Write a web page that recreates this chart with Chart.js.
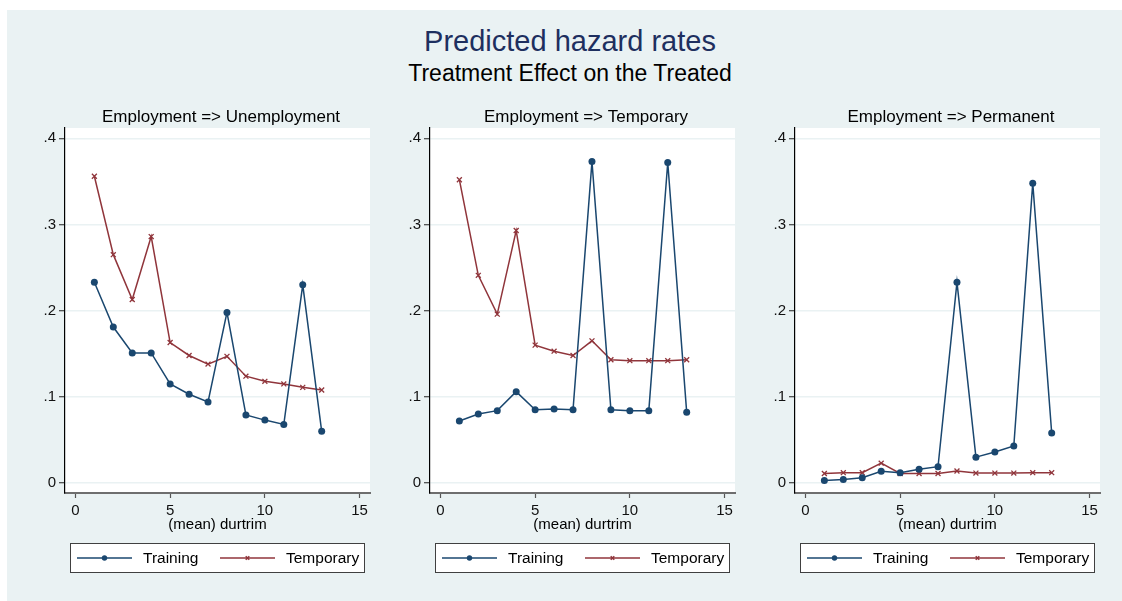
<!DOCTYPE html>
<html>
<head>
<meta charset="utf-8">
<script src="https://cdn.jsdelivr.net/npm/chart.js@4.4.1/dist/chart.umd.min.js"></script>
<style>
  html, body { margin: 0; padding: 0; background: #ffffff; }
  body { width: 1122px; height: 601px; position: relative; overflow: hidden;
         font-family: "Liberation Sans", Arial, sans-serif; }
  #frame { position: absolute; left: 7px; top: 10px; width: 1115px; height: 591px; background: #eaf2f3; }
  .head { position: absolute; left: 0; width: 1140px; text-align: center; white-space: nowrap; }
  #title { top: 25px; font-size: 29px; color: #1e2f5f; }
  #subtitle { top: 60px; font-size: 23px; color: #000; }
  canvas { position: absolute; top: 100px; }
</style>
</head>
<body>
<div id="frame"></div>
<div class="head" id="title">Predicted hazard rates</div>
<div class="head" id="subtitle">Treatment Effect on the Treated</div>
<canvas id="c0" width="365" height="490" style="left:25px"></canvas>
<canvas id="c1" width="365" height="490" style="left:390px"></canvas>
<canvas id="c2" width="365" height="490" style="left:755px"></canvas>
<script>
// duration periods on the x axis
const durtrim = [1, 2, 3, 4, 5, 6, 7, 8, 9, 10, 11, 12, 13];

// Employment => Unemployment
const unempTraining  = [0.233, 0.181, 0.151, 0.151, 0.115, 0.103, 0.094, 0.198, 0.079, 0.073, 0.068, 0.230, 0.060];
const unempTemporary = [0.356, 0.265, 0.213, 0.286, 0.163, 0.148, 0.138, 0.147, 0.124, 0.118, 0.115, 0.111, 0.108];

// Employment => Temporary
const tempTraining  = [0.072, 0.080, 0.084, 0.106, 0.085, 0.086, 0.085, 0.373, 0.085, 0.084, 0.084, 0.372, 0.082];
const tempTemporary = [0.352, 0.241, 0.196, 0.293, 0.160, 0.153, 0.148, 0.165, 0.143, 0.142, 0.142, 0.142, 0.143];

// Employment => Permanent
const permTraining  = [0.003, 0.004, 0.006, 0.0135, 0.012, 0.016, 0.019, 0.233, 0.030, 0.036, 0.043, 0.348, 0.058];
const permTemporary = [0.011, 0.012, 0.012, 0.023, 0.011, 0.011, 0.011, 0.014, 0.0115, 0.0115, 0.0115, 0.012, 0.012];

const panelTitles = ['Employment => Unemployment', 'Employment => Temporary', 'Employment => Permanent'];
const seriesNames = ['Training', 'Temporary'];
const yTicks = [0, 0.1, 0.2, 0.3, 0.4];
const yTickLabels = ['0', '.1', '.2', '.3', '.4'];
const xTicks = [0, 5, 10, 15];
const xTitle = '(mean) durtrim';

const NAVY = '#1a476f';
const MAROON = '#90353b';
const FONT = '"Liberation Sans", Arial, sans-serif';

const panels = [
  [unempTraining, unempTemporary],
  [tempTraining, tempTemporary],
  [permTraining, permTemporary]
];

// white plot region, panel title, x-axis title and boxed legend
const panelDecor = {
  id: 'panelDecor',
  beforeDraw(chart) {
    const a = chart.chartArea, ctx = chart.ctx;
    ctx.save();
    ctx.fillStyle = '#ffffff';
    ctx.fillRect(a.left, a.top, a.right - a.left, a.bottom - a.top);
    ctx.restore();
  },
  afterDraw(chart, args, opts) {
    const a = chart.chartArea, ctx = chart.ctx;
    const cx = (a.left + a.right) / 2;
    ctx.save();
    ctx.fillStyle = '#000';
    ctx.textAlign = 'center';
    ctx.textBaseline = 'middle';
    ctx.font = '17px ' + FONT;
    ctx.fillText(opts.title, cx + 3.5, a.top - 11);
    ctx.font = '15px ' + FONT;
    ctx.fillText(opts.xTitle, cx, a.bottom + 32);

    // legend box
    const bx = a.left + 5, by = a.bottom + 50, bw = a.right - a.left - 11, bh = 29;
    ctx.fillStyle = '#ffffff';
    ctx.fillRect(bx, by, bw, bh);
    ctx.strokeStyle = '#404040';
    ctx.lineWidth = 1;
    ctx.strokeRect(bx + 0.5, by + 0.5, bw, bh);
    const my = by + bh / 2 + 0.5;
    const items = [
      { x: bx + 7, color: NAVY, style: 'circle', label: opts.names[0] },
      { x: bx + 150, color: MAROON, style: 'crossRot', label: opts.names[1] }
    ];
    items.forEach(it => {
      ctx.strokeStyle = it.color;
      ctx.fillStyle = it.color;
      ctx.lineWidth = 1.5;
      ctx.beginPath();
      ctx.moveTo(it.x, my);
      ctx.lineTo(it.x + 55, my);
      ctx.stroke();
      if (it.style === 'circle') {
        ctx.beginPath(); ctx.arc(it.x + 27.5, my, 2.7, 0, Math.PI * 2); ctx.fill();
      } else {
        Chart.helpers.drawPoint(ctx, { pointStyle: 'crossRot', radius: 2.5, borderWidth: 1.3 }, it.x + 27.5, my);
      }
      ctx.fillStyle = '#000';
      ctx.textAlign = 'left';
      ctx.font = '15.5px ' + FONT;
      ctx.fillText(it.label, it.x + 66, my + 1);
    });
    ctx.restore();
  }
};

function makeChart(id, idx) {
  const [train, temp] = panels[idx];
  return new Chart(document.getElementById(id), {
    type: 'line',
    data: {
      datasets: [
        {
          label: seriesNames[0],
          data: durtrim.map((d, i) => ({ x: d, y: train[i] })),
          borderColor: NAVY, backgroundColor: NAVY,
          borderWidth: 1.5, pointStyle: 'circle', pointRadius: 3.5,
          pointBorderWidth: 0, tension: 0
        },
        {
          label: seriesNames[1],
          data: durtrim.map((d, i) => ({ x: d, y: temp[i] })),
          borderColor: MAROON, backgroundColor: MAROON,
          borderWidth: 1.5, pointStyle: 'crossRot', pointRadius: 3.5,
          pointBorderWidth: 1.3, tension: 0
        }
      ]
    },
    options: {
      responsive: false,
      animation: false,
      devicePixelRatio: 1,
      layout: { padding: { left: 0, top: 28, right: 20, bottom: 67 } },
      plugins: {
        legend: { display: false },
        title: { display: false },
        tooltip: { enabled: false },
        panelDecor: { title: panelTitles[idx], xTitle: xTitle, names: seriesNames }
      },
      scales: {
        x: {
          type: 'linear', min: -0.55, max: 15.55,
          afterFit(s) { s.height = 30; },
          afterBuildTicks(s) { s.ticks = xTicks.map(v => ({ value: v })); },
          grid: { drawOnChartArea: false, drawTicks: true, tickLength: 5, tickColor: '#555', tickWidth: 1.2 },
          border: { display: true, color: '#6e6e6e', width: 2 },
          ticks: { color: '#111', font: { family: FONT, size: 15 }, padding: 4, maxRotation: 0,
                   callback: v => String(v) }
        },
        y: {
          type: 'linear', min: -0.0116, max: 0.412,
          afterFit(s) { s.width = 40; },
          afterBuildTicks(s) { s.ticks = yTicks.map(v => ({ value: v })); },
          grid: { color: '#eaf2f3', lineWidth: 1.5, drawTicks: true, tickLength: 6, tickColor: '#222', tickWidth: 1 },
          border: { display: true, color: '#000', width: 1.2 },
          ticks: { color: '#111', font: { family: FONT, size: 15 }, padding: 3,
                   callback: (v) => yTickLabels[yTicks.findIndex(t => Math.abs(t - v) < 1e-9)] ?? '' }
        }
      }
    },
    plugins: [panelDecor]
  });
}

makeChart('c0', 0);
makeChart('c1', 1);
makeChart('c2', 2);
</script>
</body>
</html>
